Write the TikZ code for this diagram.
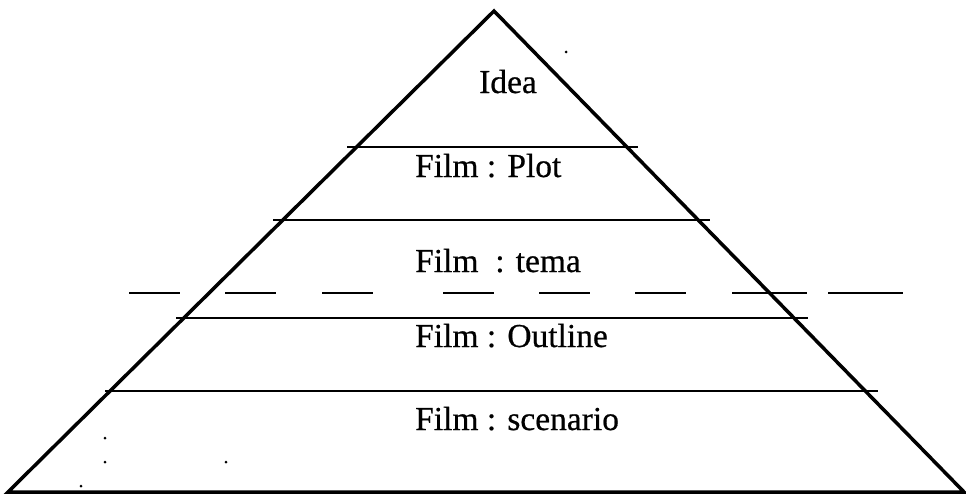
\documentclass[tikz,border=0pt]{standalone}
\usepackage{fontspec}
\setmainfont{Liberation Serif}
\newfontfamily\inkyfont{Liberation Serif}[FakeBold=0.6]
\begin{document}
\begin{tikzpicture}[x=1pt,y=-1pt,
  edge/.style={line width=3.5pt, line join=miter},
  rule/.style={line width=2.8pt},
  cutline/.style={line width=2.8pt, dash pattern=on 51pt off 45pt on 51pt off 46pt on 51pt off 70pt on 51pt off 45pt on 51pt off 45pt on 51pt off 46pt on 75pt off 21pt on 75pt off 100pt},
  lbl/.style={anchor=base west, inner sep=0pt, font=\inkyfont\fontsize{33.5}{40}\selectfont},
  speck/.style={fill=black, circle, inner sep=0pt, minimum size=3pt}]
\useasboundingbox (0,0) rectangle (966,495);
% triangle
\coordinate (apex) at (494,11);
\coordinate (left) at (8,492);
\coordinate (right) at (964,492);
\draw[edge] (left) -- (apex) -- (right) -- cycle;
% level lines
\coordinate (a1) at (347,147); \coordinate (a2) at (638,147);
\coordinate (b1) at (273,220); \coordinate (b2) at (710,220);
\coordinate (c1) at (176,318); \coordinate (c2) at (808,318);
\coordinate (e1) at (105,391); \coordinate (e2) at (878,391);
\coordinate (d1) at (129,293); \coordinate (d2) at (903,293);
\draw[rule] (a1) -- (a2);
\draw[rule] (b1) -- (b2);
\draw[rule] (c1) -- (c2);
\draw[rule] (e1) -- (e2);
\draw[cutline] (d1) -- (d2);
% labels
\node[lbl] (idea) at (479,93) {Idea};
\node[lbl] (plot) at (415,177) {Film : Plot};
\node[lbl] (tema) at (415,272) {Film \ : tema};
\node[lbl] (outline) at (415,347) {Film : Outline};
\node[lbl] (scen) at (415,430) {Film : scenario};
% specks
\node[speck] (s1) at (566,52) {};
\node[speck] (s2) at (105,438) {};
\node[speck] (s3) at (105,462) {};
\node[speck] (s4) at (226,462) {};
\node[speck] (s5) at (81,486) {};
\end{tikzpicture}
\end{document}
